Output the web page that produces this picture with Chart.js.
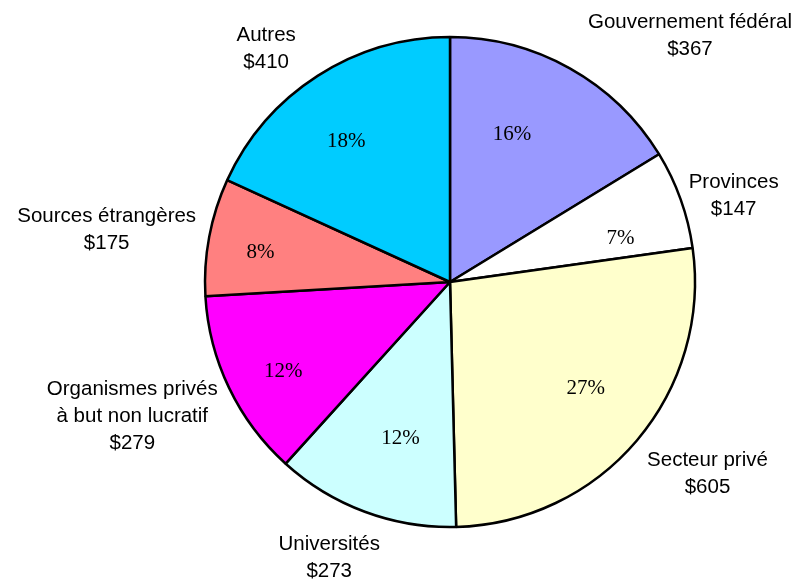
<!DOCTYPE html>
<html>
<head>
<meta charset="utf-8">
<script src="https://cdn.jsdelivr.net/npm/chart.js@4/dist/chart.umd.min.js"></script>
<style>
  html, body { margin: 0; padding: 0; background: #fff; }
  #pie { display: block; }
</style>
</head>
<body>
<canvas id="pie" width="796" height="580"></canvas>
<script>
(function() {
  'use strict';

  // sources de financement, en ordre horaire depuis midi
  var categories = [
    "Gouvernement fédéral",
    "Provinces",
    "Secteur privé",
    "Universités",
    "Organismes privés\nà but non lucratif",
    "Sources étrangères",
    "Autres"
  ];
  var amounts = [367, 147, 605, 273, 279, 175, 410];
  var sliceColors = ['#9999FF', '#FFFFFF', '#FFFFCC', '#CCFFFF', '#FF00FF', '#FF8080', '#00CCFF'];

  // petits décalages (px) des étiquettes par rapport à la position calculée
  var outerNudge = [[59, 9], [-11, 12], [7, -1], [-10, -2], [1, -1], [8, 0], [-23, 13]];
  var innerNudge = [[-22, 0], [9, 13], [5, -6], [10, -6], [-12, 14], [-21, 0], [-11, 2]];

  var total = amounts.reduce(function(a, b) { return a + b; }, 0);

  var OUTER_FONT = '20.5px "Liberation Sans", Arial, sans-serif';
  var INNER_FONT = '21px "Liberation Serif", "Times New Roman", serif';
  var LINE_H = 27;
  var CAP_H = 0.716 * 20.5;
  var DIGIT_H = 0.676 * 21;

  var sliceLabels = {
    id: 'sliceLabels',
    afterDatasetsDraw: function(chart) {
      var ctx = chart.ctx;
      var meta = chart.getDatasetMeta(0);
      ctx.save();
      ctx.fillStyle = '#000';
      ctx.textAlign = 'center';
      ctx.textBaseline = 'alphabetic';

      meta.data.forEach(function(arc, i) {
        var p = arc.getProps(['x', 'y', 'startAngle', 'endAngle', 'outerRadius'], true);
        var mid = (p.startAngle + p.endAngle) / 2;
        var cx = Math.cos(mid), sy = Math.sin(mid);

        // pourcentage à l'intérieur de la pointe
        var pct = Math.round(amounts[i] / total * 100) + '%';
        var ir = p.outerRadius * 0.70;
        ctx.font = INNER_FONT;
        ctx.fillText(pct,
          p.x + ir * cx + innerNudge[i][0],
          p.y + ir * sy + innerNudge[i][1] + DIGIT_H / 2);

        // nom et montant à l'extérieur
        var lines = categories[i].split('\n').concat(['$' + amounts[i]]);
        ctx.font = OUTER_FONT;
        var w = Math.max.apply(null, lines.map(function(s) { return ctx.measureText(s).width; }));
        var h = lines.length * LINE_H;
        var R = p.outerRadius + 23;
        var bx = p.x + (R + w / 2) * cx + outerNudge[i][0];
        var by = p.y + (R + h / 2) * sy + outerNudge[i][1];
        var blockH = CAP_H + (lines.length - 1) * LINE_H;
        var y0 = by - blockH / 2 + CAP_H;
        lines.forEach(function(s, k) {
          ctx.fillText(s, bx, y0 + k * LINE_H);
        });
      });
      ctx.restore();
    }
  };

  new Chart(document.getElementById('pie').getContext('2d'), {
    type: 'pie',
    data: {
      labels: categories,
      datasets: [{
        data: amounts,
        backgroundColor: sliceColors,
        borderColor: '#000000',
        borderWidth: 2.5
      }]
    },
    options: {
      responsive: false,
      devicePixelRatio: 1,
      animation: false,
      radius: 245,
      layout: { padding: { left: 205, right: 101, top: 37, bottom: 53 } },
      plugins: {
        legend: { display: false },
        tooltip: { enabled: false }
      }
    },
    plugins: [sliceLabels]
  });
})();
</script>
</body>
</html>
